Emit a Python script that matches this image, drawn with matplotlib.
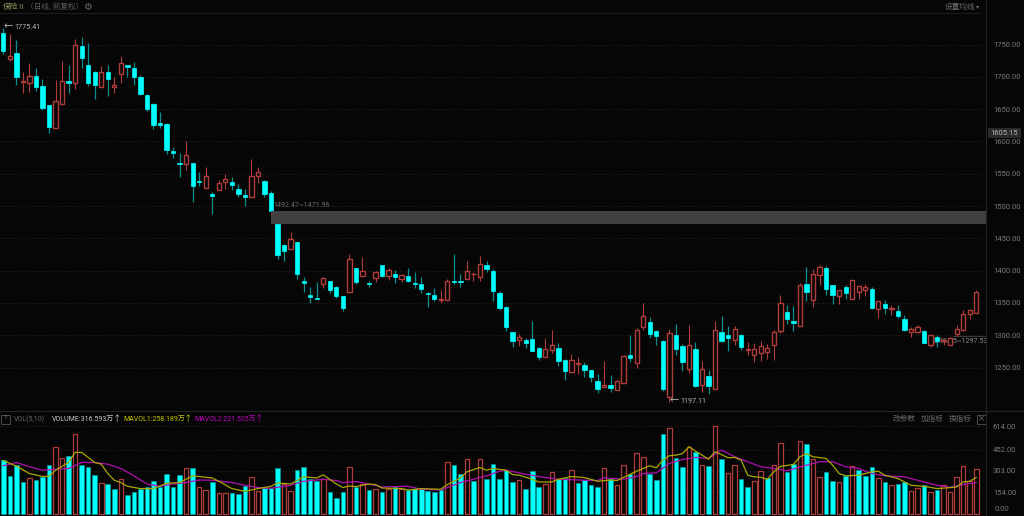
import numpy as np
import matplotlib
matplotlib.use('Agg')
import matplotlib.pyplot as plt

W, H = 1024, 516
BG = '#060606'
CYAN = '#00ffff'
CYAN_WICK = '#0a8f8f'
RED = '#b03c3c'
GREY = '#7a7a7a'
NUM = ['Roboto', 'Noto Sans CJK SC', 'DejaVu Sans']
CJK = ['Noto Sans CJK SC', 'DejaVu Sans']

highs = [
    1775.41, 1767, 1757, 1707, 1721, 1713, 1696, 1656, 1695, 1724,
    1718.6, 1759, 1761, 1752, 1709, 1717, 1718.6, 1699, 1732, 1718.6,
    1723, 1703, 1673, 1659, 1645.5, 1628, 1592, 1581.6, 1600.6, 1566.7,
    1552, 1560, 1522, 1540, 1550, 1545.5, 1534, 1526.5, 1573, 1560,
    1540.4, 1523, 1471.96, 1441.8, 1459, 1444.4, 1390, 1374, 1383, 1390,
    1384, 1376, 1360.4, 1425, 1404, 1421, 1384, 1399.6, 1409.4, 1404,
    1401, 1395.5, 1404, 1397.5, 1390, 1366.6, 1373.8, 1370.7, 1387.7, 1426.4,
    1394.4, 1415.5, 1398.5, 1423, 1415.5, 1402.7, 1368.7, 1345, 1305.3, 1302.2,
    1295, 1322, 1281.6, 1295.5, 1307.4, 1287.3, 1262.6, 1271, 1267, 1258.5,
    1246.6, 1239.4, 1259.4, 1237.8, 1230, 1269.7, 1301, 1311.4, 1350, 1328.4,
    1308.8, 1291.8, 1310, 1317.6, 1285.7, 1316, 1290, 1260.4, 1246.5, 1321.7,
    1330, 1315, 1315, 1302, 1290, 1287.7, 1291, 1285.7, 1308.8, 1362,
    1347, 1345, 1381, 1405.7, 1402.6, 1409, 1406.7, 1378.4, 1370.6, 1378,
    1385.6, 1378.4, 1380, 1374, 1353, 1355, 1347, 1346.4, 1330.5, 1313,
    1316, 1307.3, 1301, 1299.6, 1294.4, 1297, 1316, 1339, 1341.3, 1370,
]
opens = [
    1767.5, 1728, 1737.6, 1692, 1691, 1701, 1685, 1656, 1621, 1658,
    1693, 1691, 1747, 1717.6, 1707, 1684.6, 1708, 1684.6, 1704.7, 1718,
    1713.4, 1699.5, 1672, 1658, 1629, 1627, 1585, 1567, 1565.6, 1566,
    1539, 1528.5, 1518, 1524.4, 1537, 1537, 1526, 1517, 1514.6, 1546,
    1538, 1520, 1471.96, 1440, 1433, 1444, 1384, 1362, 1358, 1379,
    1383.6, 1374, 1360, 1367, 1403.7, 1391, 1381, 1389, 1408, 1391,
    1395.5, 1387, 1392, 1381.5, 1380, 1365.6, 1362, 1354.3, 1354.3, 1384.6,
    1384, 1386.7, 1394.4, 1390, 1409, 1400, 1364.6, 1343, 1304.8, 1292,
    1292, 1294.5, 1280, 1267, 1277, 1279.6, 1262, 1243.5, 1256, 1254.3,
    1245.6, 1229.6, 1219.8, 1223.4, 1215.6, 1226, 1268.7, 1257, 1313, 1320.7,
    1306.8, 1291.3, 1205, 1300, 1284, 1248, 1278, 1222.8, 1237, 1217,
    1304.7, 1299.6, 1292.4, 1300, 1277, 1270, 1272.8, 1273.8, 1284.6, 1306,
    1336, 1322, 1314.5, 1379.4, 1354, 1393, 1403.6, 1378, 1360, 1374,
    1356.7, 1367, 1370, 1371.7, 1340, 1348.5, 1340.8, 1337.7, 1324.8, 1304.7,
    1305, 1306.8, 1285, 1297, 1291, 1285, 1301.6, 1307.3, 1333, 1334.6,
]
closes = [
    1739.7, 1731.5, 1699, 1693, 1702, 1683.6, 1652, 1622, 1662, 1694,
    1691, 1748.5, 1729, 1691, 1688, 1707, 1696, 1688, 1721, 1715.5,
    1699, 1673, 1650, 1626, 1626, 1587, 1581.6, 1565.6, 1578.5, 1531.6,
    1537, 1546, 1516, 1536, 1541.4, 1532, 1518, 1514.6, 1546, 1553,
    1518, 1492.47, 1424.8, 1430, 1449, 1395, 1380.5, 1359, 1356, 1388.8,
    1370.7, 1360, 1342.4, 1418, 1382, 1399.6, 1378.5, 1398, 1392, 1401,
    1390, 1393.4, 1383.6, 1379, 1371.8, 1363.5, 1356.8, 1355.3, 1384.6, 1382.6,
    1382, 1399.6, 1395.5, 1410.4, 1402, 1368, 1342.4, 1313, 1291, 1297.6,
    1288.3, 1275.5, 1267, 1279, 1285, 1260.5, 1244.6, 1262, 1257.4, 1246,
    1235, 1217, 1222.3, 1218, 1229.6, 1268, 1264.6, 1307.8, 1329.4, 1301.6,
    1298, 1217, 1303.7, 1278, 1258, 1285, 1220.8, 1248, 1221.8, 1307.8,
    1291, 1295, 1309.4, 1281.5, 1278, 1279, 1282.6, 1280.5, 1305, 1349.5,
    1325.8, 1319, 1377, 1367, 1395, 1405.7, 1372, 1362.4, 1369.6, 1365,
    1385.6, 1375.8, 1374.8, 1341.8, 1353, 1342.3, 1342.8, 1329, 1307.3, 1310,
    1312, 1288, 1300.6, 1291, 1292.4, 1295.5, 1310, 1332.5, 1339, 1367,
]
lows = [
    1736, 1725, 1687, 1675, 1677, 1678, 1648.5, 1613.5, 1621, 1658,
    1675, 1680.5, 1714, 1685.6, 1665.5, 1684.6, 1670, 1675, 1691, 1699,
    1687, 1672, 1647, 1619, 1621, 1580.6, 1575, 1545.6, 1556, 1506,
    1531.6, 1528.5, 1488, 1524.4, 1527, 1525, 1514.6, 1500, 1514.6, 1535,
    1514.6, 1492.47, 1418, 1414.5, 1433, 1386.7, 1367.6, 1349.6, 1356, 1372.8,
    1364.6, 1357, 1336.7, 1367, 1379, 1391, 1374, 1383, 1390, 1386,
    1381.5, 1382, 1382, 1372.8, 1366, 1343.4, 1353.7, 1349.6, 1354.3, 1379,
    1374, 1386.7, 1383.6, 1384.6, 1398.5, 1352.7, 1338.8, 1307, 1282, 1282.7,
    1279.6, 1275, 1261, 1265.7, 1273, 1252.8, 1230, 1243.5, 1240, 1236,
    1227.6, 1210, 1219.8, 1212, 1214.6, 1226, 1258.4, 1250, 1307.3, 1295.5,
    1284.6, 1213.6, 1197.11, 1269.7, 1244.5, 1241, 1220, 1212, 1209.5, 1217,
    1289, 1275, 1284.6, 1277, 1268.7, 1258, 1260, 1262.5, 1261, 1303,
    1317.6, 1307, 1314.5, 1352.6, 1344, 1378, 1362.4, 1349, 1349, 1356,
    1356.7, 1356.7, 1361.4, 1340.8, 1326.4, 1333, 1331, 1326.4, 1306, 1297,
    1303.7, 1287.7, 1281.5, 1281.5, 1285, 1284.6, 1298.5, 1306, 1325, 1334.6,
]

volume = [
    376, 266, 343, 224, 252, 240, 264, 343, 467, 390,
    409, 558, 346, 327, 276, 219, 210, 177, 250, 138,
    159, 180, 191, 231, 194, 285, 194, 278, 320, 322,
    194, 173, 229, 152, 152, 152, 140, 198, 264, 166,
    184, 184, 320, 210, 166, 308, 332, 250, 231, 250,
    159, 114, 159, 332, 191, 215, 168, 180, 159, 180,
    194, 175, 168, 177, 177, 161, 159, 173, 362, 343,
    285, 383, 236, 383, 245, 353, 250, 308, 226, 243,
    180, 301, 189, 215, 299, 250, 257, 308, 219, 240,
    208, 189, 320, 245, 208, 341, 283, 430, 397, 283,
    240, 558, 600, 390, 327, 472, 437, 341, 336, 614,
    383, 292, 341, 245, 194, 236, 306, 257, 341, 495,
    297, 348, 511, 490, 385, 264, 297, 231, 229, 269,
    334, 308, 266, 327, 257, 224, 205, 215, 226, 166,
    187, 208, 159, 170, 205, 154, 264, 334, 236, 316.593,
]
# c = cyan, r = red, the volume colours differ from the candles here and there
vol_side = ('ccccrcccrrcrcccrccrccccccccc' 'rcrrcrrcccrrcccrrccccrcc'
            'crcrcrcrcrcccccc' 'rccrcrcccccrcccrrccrccccrcrrcrrcccrc'
            'crcrcrcrrccrrcrrccrcrrccrcrcccrcrccrrcrcrrrrrr')

ma1_idx = [0, 2, 4, 6, 7, 8, 10, 11, 12, 14, 15, 16, 17, 18, 19, 21, 23, 25, 27, 29,
           32, 33, 35, 37, 39, 41, 42, 44, 46, 48, 49, 51,
           52, 53, 54, 56, 57, 58, 61, 62, 64, 67, 68, 70, 71, 73, 74, 75, 77, 78,
           79, 81, 82, 84, 85, 87, 89, 91, 93, 94, 96, 97, 99, 100, 101, 102, 103,
           104, 105, 106, 108, 109, 111, 112, 113, 114, 115, 116, 117, 118, 119, 121,
           122, 123, 124, 126, 127, 128, 129, 131, 133, 134, 135, 137, 139, 141, 143,
           145, 146, 147, 148, 149]
ma1_val = [376, 336, 285, 264, 266, 308, 362, 432, 432, 362, 350, 285, 238, 222, 196, 180, 180, 217, 222, 269,
           254, 231, 180, 161, 180, 196, 219, 212, 262, 254, 276, 212,
           187, 198, 194, 212, 208, 184, 180, 170, 180, 175, 208, 254, 297, 327, 308, 320, 308, 278,
           273, 245, 226, 226, 245, 264, 257, 231, 240, 236, 280, 301, 339, 325, 378, 409, 413,
           423, 472, 441, 385, 437, 395, 397, 378, 273, 262, 259, 245, 297, 334, 348,
           402, 423, 402, 390, 343, 285, 269, 273, 297, 301, 273, 250, 203, 196, 180,
           187, 191, 226, 231, 258.189]
ma2_idx = [0, 2, 4, 6, 8, 10, 12, 14, 16, 18, 20, 22, 24, 26, 28, 30, 32, 35, 37, 39,
           41, 44, 46, 49, 51, 52, 54, 56, 58, 62, 64, 67, 70, 72, 74, 76, 77, 80,
           82, 85, 88, 91, 92, 95, 97, 98, 100, 102, 104, 106, 108, 110, 112, 114,
           116, 118, 120, 123, 125, 127, 129, 131, 133, 135, 138, 141, 143, 145, 147, 149]
ma2_val = [339, 362, 332, 308, 315, 320, 362, 362, 350, 320, 269, 212, 196, 212, 222, 240, 238, 222, 203, 187,
           182, 203, 231, 245, 236, 222, 229, 212, 191, 196, 175, 170, 222, 245, 269, 301, 308, 280,
           264, 245, 240, 236, 255, 245, 264, 285, 290, 355, 383, 397, 390, 448, 402, 367,
           332, 320, 304, 343, 367, 367, 332, 320, 285, 269, 262, 226, 203, 189, 208, 221.525]

price_ticks = [1250, 1300, 1350, 1400, 1450, 1500, 1550, 1600, 1650, 1700, 1750]
vol_ticks = [154, 303, 452, 614]
gap_big = (41, 1492.47, 1471.96)
gap_small = (146, 1298.35, 1297.53)
last_price = 1605.15


def tx(x, y, s, color=GREY, size=5, fam=NUM, **kw):
    fig.text(x / W, 1 - y / H, s, color=color, fontsize=size, family=fam, va='center', **kw)


def box(x0, y0, x1, y1, **kw):
    fig.add_artist(plt.Rectangle((x0 / W, 1 - y1 / H), (x1 - x0) / W, (y1 - y0) / H,
                                 transform=fig.transFigure, **kw))


plt.rcParams['font.family'] = NUM

fig = plt.figure(figsize=(W / 100, H / 100), dpi=100, facecolor=BG)
ax = fig.add_axes([0, 1 - 411 / H, 986 / W, 398 / H], facecolor=BG)
ax2 = fig.add_axes([0, 0, 986 / W, 105 / H], facecolor=BG)

x = np.arange(len(closes))
o, h, l, c = map(np.array, (opens, highs, lows, closes))
up = c >= o
width = 0.66

ax.vlines(x[up], l[up], h[up], color=RED, lw=0.8, zorder=2)
ax.vlines(x[~up], l[~up], h[~up], color=CYAN_WICK, lw=0.9, zorder=2)
ax.bar(x[up], (c - o)[up], bottom=o[up], width=width, facecolor=BG, edgecolor=RED, lw=1.0, zorder=3)
ax.bar(x[~up], (c - o)[~up], bottom=o[~up], width=width, color=CYAN, edgecolor=CYAN, lw=0.5, zorder=3)

ax.set_xlim(-0.505, 150.49)
ax.set_ylim(1750 - (411 - 44.5) / 0.646, 1750 + (44.5 - 13) / 0.646)
ax.set_yticks(price_ticks)
ax.set_yticklabels(['%.2f' % t for t in price_ticks])
ax.grid(axis='y', color='#303030', ls=(0, (1, 2.5)), lw=0.6, zorder=0)

# gap zones, each runs from the candle to the right edge
ax.fill_between([gap_big[0] + 0.05, 151], gap_big[1], gap_big[2], color='#414141', lw=0, zorder=4)
ax.fill_between([gap_small[0] - 0.6, 151], gap_small[1], gap_small[2], color='#3a3a3a', lw=0, zorder=1)
ax.text(gap_big[0] + 0.3, gap_big[1] + 9, '%.2f~%.2f' % gap_big[1:], color='#6a6a6a', fontsize=5.1, va='center')
ax.text(142.2, 1289.5, '%.2f~%.2f' % gap_small[1:], color='#8a8a8a', fontsize=5.1, va='center', zorder=1)

ax.text(0, highs[0] + 1.6, '←', color='#d0d0d0', fontsize=6.5, va='center', family=CJK)
ax.text(1.65, highs[0] + 1.6, '%.2f' % highs[0], color='#b5b5b5', fontsize=5.2, va='center')
ax.text(102.1, lows[102] + 1, '←', color='#d0d0d0', fontsize=6.5, va='center', family=CJK)
ax.text(103.7, lows[102] + 1, '%.2f' % lows[102], color='#b5b5b5', fontsize=5.2, va='center')

vol = np.array(volume)
is_red = np.array([s == 'r' for s in vol_side])
ax2.bar(x[is_red], vol[is_red], width=0.7, facecolor=BG, edgecolor=RED, lw=0.9, zorder=2)
ax2.bar(x[~is_red], vol[~is_red], width=0.7, color=CYAN, edgecolor='#0a9a9a', lw=0.4, zorder=2)
ax2.plot(ma2_idx, ma2_val, color='#b010b0', lw=0.9, zorder=3)
ax2.plot(ma1_idx, ma1_val, color='#a8a800', lw=0.9, zorder=4)
ax2.set_xlim(-0.505, 150.49)
ax2.set_ylim(-11, 720.6)
ax2.set_yticks(vol_ticks)
ax2.set_yticklabels(['%.2f' % t for t in vol_ticks])
ax2.grid(axis='y', color='#303030', ls=(0, (1, 2.5)), lw=0.6, zorder=0)

for a in (ax, ax2):
    a.set_xticks([])
    a.yaxis.tick_right()
    a.tick_params(axis='y', length=0, pad=5, labelsize=5.5, labelcolor=GREY)
    for side in ('left', 'bottom', 'top'):
        a.spines[side].set_visible(False)
    a.spines['right'].set_color('#242424')
    a.spines['right'].set_linewidth(0.8)

# divider and header lines, the price axis line goes full height
fig.add_artist(plt.Line2D([0, 1], [1 - 411 / H] * 2, color='#242424', lw=0.8))
fig.add_artist(plt.Line2D([0, 980 / W], [1 - 13 / H] * 2, color='#1c1c1c', lw=0.8))
fig.add_artist(plt.Line2D([986 / W] * 2, [0, 1], color='#242424', lw=0.8))

tx(3, 7, '保险Ⅱ', color='#8f8f5a', size=5.6, fam=CJK)
tx(26, 7, '（日线, 前复权）', color='#5f5f5f', size=5.5, fam=CJK)
tx(87, 7, '⚙', color='#666666', size=7, fam=['DejaVu Sans'], ha='center')
tx(945, 7, '设置均线', color='#6e6e6e', size=5.5, fam=CJK)
tx(978, 7, '▾', color='#6e6e6e', size=4.5, fam=['DejaVu Sans'], ha='center')

box(988, 128, 1021, 138, fc='#2a2a2a', ec='none')
tx(1004.5, 133, '%.2f' % last_price, color='#b8b8b8', size=5.5, ha='center')
# the zero label sits above its level in the reference
tx(995, 509, '0.00', size=5.5)

box(1, 415, 9.5, 423.5, fill=False, ec='#555555', lw=0.6)
tx(5.2, 419, '?', color='#707070', size=5, ha='center')
tx(14, 419, 'VOL(5,10)', color='#626262', size=5)
tx(52, 419, 'VOLUME:316.593万', color='#c8c8c8', size=5)
tx(117, 419, '↑', color='#c8c8c8', size=6, fam=CJK, ha='center')
tx(123, 419, 'MAVOL1:258.189万', color='#c4c400', size=5)
tx(188, 419, '↑', color='#c4c400', size=6, fam=CJK, ha='center')
tx(194, 419, 'MAVOL2:221.525万', color='#c000c0', size=5)
tx(259, 419, '↑', color='#c000c0', size=6, fam=CJK, ha='center')
tx(893, 419, '改参数', color='#666666', size=5.5, fam=CJK)
tx(921, 419, '加指标', color='#666666', size=5.5, fam=CJK)
tx(949, 419, '换指标', color='#666666', size=5.5, fam=CJK)
box(976.5, 414.5, 985.5, 423.5, fill=False, ec='#555555', lw=0.6)
tx(981, 419, '×', color='#666666', size=6, fam=['DejaVu Sans'], ha='center')

fig.savefig('out.png', dpi=100, facecolor=BG)
